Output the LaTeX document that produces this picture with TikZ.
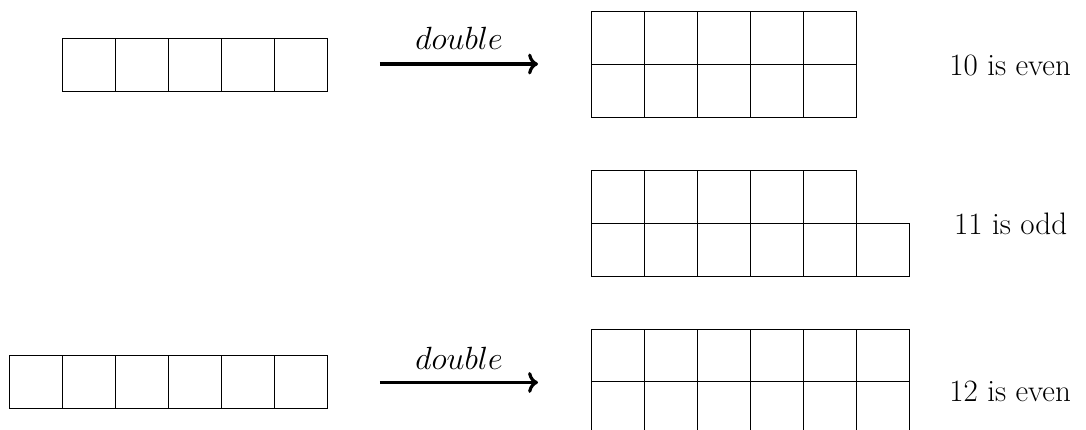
\documentclass[tikz,border=0pt]{standalone}
\usetikzlibrary{arrows.meta}
\begin{document}
\begin{tikzpicture}[
  cell/.style={draw=black, line width=0.5pt},
  maparrow/.style={->, line width=1.7pt},
  lbl/.style={font=\fontsize{16.7}{20}\selectfont, inner sep=0pt},
  verdict/.style={font=\fontsize{16.7}{20}\selectfont, inner sep=0pt, anchor=base west}
]
\useasboundingbox (0,0) rectangle (20.529,-8.110);
\clip (0,0) rectangle (20.529,-8.110);

% a row of unit squares: \cellrow{left x}{top y}{count}
\newcommand{\cellrow}[3]{%
  \foreach \k in {1,...,#3}{
    \draw[cell] ({#1+\k-1},#2) rectangle ++(1,-1);
  }}

% 5 -> 10
\cellrow{1.187}{-0.72}{5}
\cellrow{11.187}{-0.22}{5}
\cellrow{11.187}{-1.22}{5}

% 11 = 5 + 6
\cellrow{11.187}{-3.22}{5}
\cellrow{11.187}{-4.22}{6}

% 6 -> 12
\cellrow{0.187}{-6.72}{6}
\cellrow{11.187}{-6.22}{6}
\cellrow{11.187}{-7.22}{6}

% doubling arrows
\coordinate (a1s) at (7.183,-1.21);
\coordinate (a1e) at (10.17,-1.21);
\coordinate (a2s) at (7.183,-7.23);
\coordinate (a2e) at (10.17,-7.23);
\draw[maparrow] (a1s) -- node[lbl, above=0.24cm] (d1) {$double$} (a1e);
\draw[maparrow] (a2s) -- node[lbl, above=0.22cm] (d2) {$double$} (a2e);

% parity statements
\node[verdict] (t10) at (17.94,-1.418) {10 is even};
\node[verdict] (t11) at (18.03,-4.44) {11 is odd};
\node[verdict] (t12) at (17.94,-7.59) {12 is even};
\end{tikzpicture}
\end{document}
